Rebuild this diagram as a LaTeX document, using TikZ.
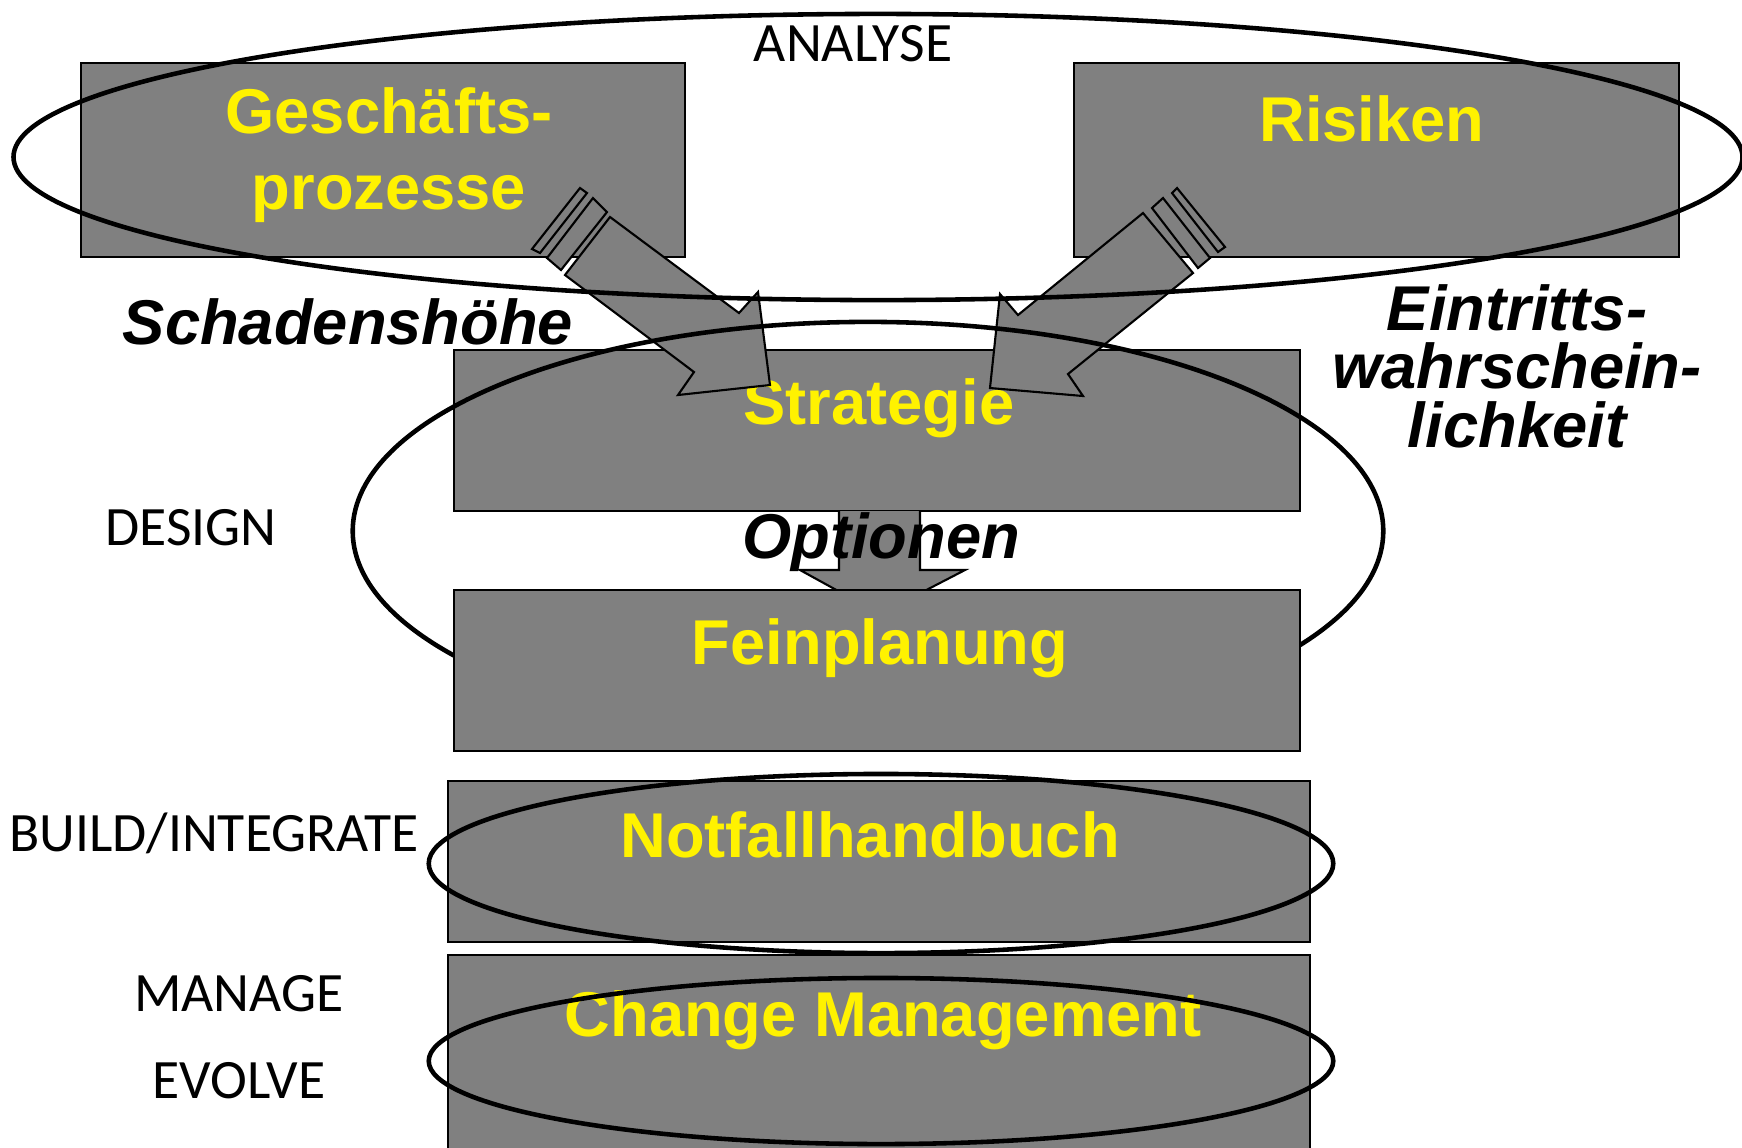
\documentclass[tikz,border=0pt]{standalone}
\usepackage{fontspec}
\setmainfont{Liberation Sans}
\newfontfamily\phasefont{Carlito}
\definecolor{boxgray}{gray}{0.5}

\begin{document}
\begin{tikzpicture}[x=0.01cm,y=-0.01cm,line join=miter]
    \tikzstyle{block}=[rectangle,draw=black,fill=boxgray,line width=0.5pt,inner sep=0pt]
    \tikzstyle{title}=[text=yellow,font=\fontsize{18}{21.6}\selectfont\bfseries,align=center,anchor=base]
    \tikzstyle{factor}=[text=black,font=\fontsize{18}{16.6}\selectfont\bfseries\itshape,align=center,anchor=base]
    \tikzstyle{phase}=[font=\phasefont\fontsize{15.8}{18}\selectfont,anchor=base]
    \tikzstyle{ring}=[draw=black,line width=1.3pt]
    \tikzstyle{bigarrow}=[draw=black,fill=boxgray,line width=0.6pt]

    \useasboundingbox (0,0) rectangle (1742,1147);
    \clip (0,0) rectangle (1742,1147);

    \foreach \name/\x/\y/\w/\h in {gp/383/160/604/194, ri/1376.5/160/605/194, st/877/430.5/846/161}
        \node[block,minimum width=\w*0.01cm,minimum height=\h*0.01cm] (\name) at (\x,\y) {};

    \node[title] (gp-text) at (389,209) {Geschäfts-\\prozesse};
    \node[title] (ri-text) at (1372,141) {Risiken};
    \node[title] (st-text) at (879,424) {Strategie};

    % Optionen
    \draw[bigarrow] (839,511) -- (839,570) -- (800,570) -- (880,614) -- (965,570) -- (920,570) -- (920,511);

    % Schadenshoehe
    \draw[bigarrow] (580,188) -- (587,193) -- (540,253) -- (532,249) -- cycle;
    \draw[bigarrow] (593,198) -- (607,212) -- (561,270) -- (547,258) -- cycle;
    \draw[bigarrow] (610,217) -- (739,313) -- (758,292) -- (770,385) -- (678,395) -- (694,372) -- (565,275) -- cycle;

    % Eintrittswahrscheinlichkeit
    \draw[bigarrow] (1177,188) -- (1172,193) -- (1218,252) -- (1225,247) -- cycle;
    \draw[bigarrow] (1163,198) -- (1152,208) -- (1198,268) -- (1210,258) -- cycle;
    \draw[bigarrow] (1143,213) -- (1018,315) -- (1000,294) -- (990,388) -- (1083,396) -- (1068,374) -- (1193,273) -- cycle;

    \draw[ring] (878,157) ellipse [x radius=8.64cm, y radius=1.43cm];
    \draw[ring] (868,531) ellipse [x radius=5.15cm, y radius=2.09cm];

    \node[block,minimum width=8.46cm,minimum height=1.61cm] (fp) at (877,670.5) {};
    \node[title] (fp-text) at (880,664) {Feinplanung};

    \node[factor] (schaden) at (348,344) {Schadenshöhe};
    \node[factor] (eintritt) at (1517,447) {Eintritts-\\wahrschein-\\lichkeit};
    \node[factor] (optionen) at (881,558) {Optionen};

    \foreach \name/\x/\y/\w/\h in {nh/879/861.5/862/161, cm/879/1060/862/210}
        \node[block,minimum width=\w*0.01cm,minimum height=\h*0.01cm] (\name) at (\x,\y) {};
    \node[title] (nh-text) at (870,857) {Notfallhandbuch};
    \node[title] (cm-text) at (883,1036) {Change Management};
    \draw[ring] (881,863.5) ellipse [x radius=4.52cm, y radius=0.895cm];
    \draw[ring] (881,1061) ellipse [x radius=4.52cm, y radius=0.83cm];

    \foreach \name/\x/\y/\txt in {analyse/853/61/ANALYSE, design/191/545/DESIGN, build/214/851/{BUILD/INTEGRATE}, manage/239/1011/MANAGE, evolve/239/1098/EVOLVE}
        \node[phase] (\name) at (\x,\y) {\txt};
\end{tikzpicture}
\end{document}
